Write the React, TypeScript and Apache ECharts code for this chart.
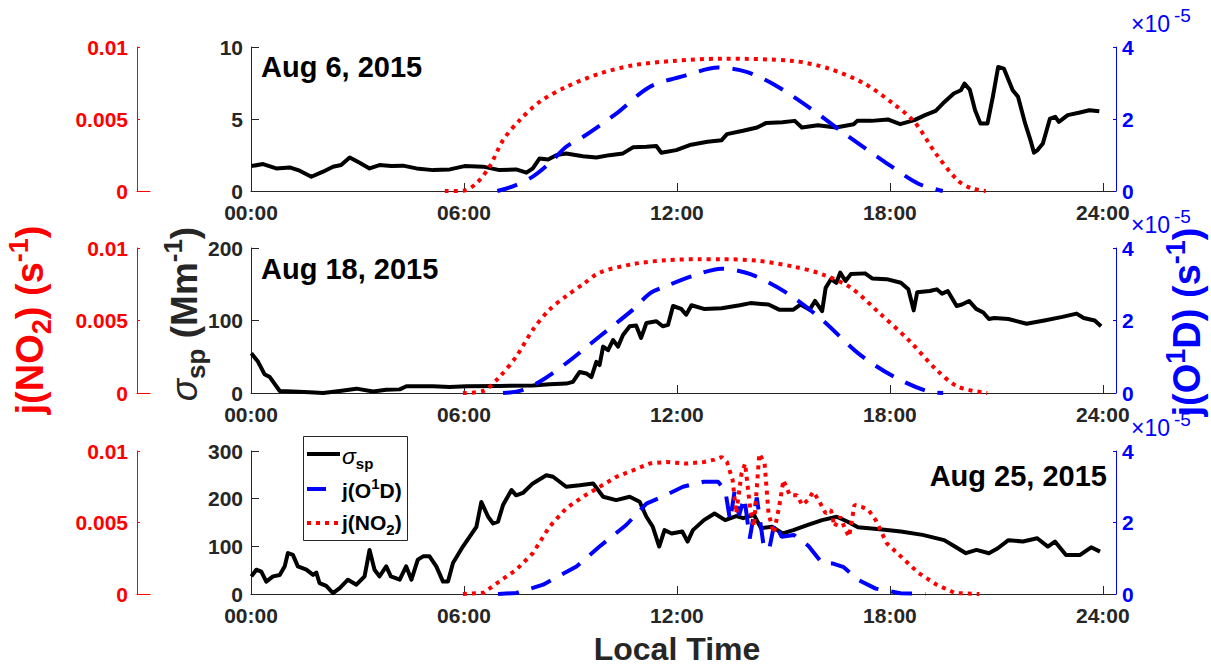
import React, { useEffect, useRef } from "react";
import * as echarts from "echarts";

const FONT = "'Liberation Sans', Arial, Helvetica, sans-serif";
const GRAY = "#262626";
const RED = "#ff0000";
const BLUE = "#0000ff";

// ---- axis / panel descriptors ----
const panelDates = ["Aug 6, 2015", "Aug 18, 2015", "Aug 25, 2015"];
const sigmaMax = [10, 200, 300];
const sigmaStep = [5, 100, 100];
const jO1DMax = 4; // in units of 1e-5 s^-1
const jO1DStep = 2;
const jNO2Max = 0.01;
const jNO2Step = 0.005;
const hourMax = 24.37;
const hourStep = 6;

// ---- data: [local hour, value] ----
// sigma_sp (Mm^-1)
const sigmaAug6 = [
  [0.01, 1.73], [0.34, 1.87], [0.71, 1.57], [1.09, 1.64], [1.37, 1.41], [1.7, 0.99], [2.03, 1.34], [2.31, 1.69],
  [2.54, 1.8], [2.78, 2.33], [3.06, 1.96], [3.34, 1.57], [3.62, 1.8], [3.95, 1.73], [4.28, 1.76], [4.66, 1.57],
  [5.13, 1.45], [5.6, 1.5], [6.02, 1.73], [6.54, 1.69], [7.0, 1.45], [7.47, 1.5], [7.76, 1.27], [7.94, 1.57],
  [8.13, 2.26], [8.37, 2.19], [8.6, 2.49], [8.88, 2.61], [9.35, 2.42], [9.73, 2.33], [10.1, 2.49], [10.48, 2.61],
  [10.76, 3.03], [11.14, 3.07], [11.42, 3.12], [11.56, 2.66], [11.98, 2.84], [12.36, 3.19], [12.86, 3.42],
  [13.26, 3.53], [13.41, 3.95], [13.86, 4.18], [14.26, 4.41], [14.52, 4.73], [14.97, 4.78], [15.32, 4.87],
  [15.52, 4.41], [15.97, 4.57], [16.48, 4.41], [16.98, 4.64], [17.08, 4.87], [17.48, 4.87], [17.94, 4.97],
  [18.29, 4.64], [18.69, 4.92], [18.99, 5.27], [19.29, 5.57], [19.49, 6.07], [19.8, 6.77], [20.0, 7.0],
  [20.1, 7.46], [20.25, 7.04], [20.4, 5.61], [20.55, 4.69], [20.75, 4.69], [20.9, 6.54], [21.05, 8.61],
  [21.21, 8.5], [21.46, 7.0], [21.61, 6.54], [21.81, 4.69], [21.96, 3.53], [22.06, 2.66], [22.16, 2.84],
  [22.31, 3.3], [22.51, 5.03], [22.66, 5.15], [22.76, 4.8], [23.01, 5.27], [23.32, 5.43], [23.62, 5.61], [23.9, 5.54],
];
const sigmaAug18 = [
  [0.01, 54.8], [0.2, 43], [0.38, 26], [0.53, 22], [0.81, 2.8], [1.18, 1.9], [1.65, 1], [2.03, 0], [2.5, 2.8],
  [2.97, 6], [3.44, 2], [3.81, 4.6], [4.19, 5], [4.38, 9.3], [5.13, 9.3], [5.6, 8.4], [6.07, 9.3], [7.0, 9.7],
  [7.94, 10.2], [8.41, 12], [8.88, 13], [9.07, 15.3], [9.26, 29], [9.45, 27], [9.59, 22], [9.73, 43], [9.82, 38.5],
  [9.92, 64], [10.06, 59], [10.2, 73], [10.34, 64], [10.48, 80], [10.67, 92], [10.85, 93], [10.99, 76], [11.14, 96.5],
  [11.42, 99], [11.6, 92], [11.75, 94], [11.89, 120], [12.12, 116], [12.26, 108], [12.41, 121], [12.76, 116],
  [13.26, 117], [13.77, 121], [14.07, 124], [14.58, 122], [14.88, 115], [15.28, 115], [15.48, 122], [15.74, 115],
  [15.89, 127], [16.09, 113], [16.19, 145], [16.34, 157], [16.49, 152], [16.6, 166], [16.75, 154.5], [16.9, 164],
  [17.3, 165], [17.5, 158], [17.91, 157], [18.31, 152], [18.52, 143], [18.67, 114], [18.77, 139], [19.12, 140.6],
  [19.32, 143], [19.47, 137], [19.63, 140.6], [19.88, 120], [20.03, 122], [20.23, 127], [20.43, 116], [20.63, 111],
  [20.79, 102], [20.94, 103.5], [21.34, 102], [21.85, 95.6], [22.35, 100], [22.86, 105], [23.26, 109.5],
  [23.46, 103.5], [23.77, 100], [23.95, 92],
];
const sigmaAug25 = [
  [0.01, 37], [0.15, 51], [0.29, 47], [0.43, 26], [0.62, 37], [0.81, 40], [0.95, 58], [1.04, 86], [1.18, 82],
  [1.32, 58], [1.56, 51], [1.75, 40], [1.84, 45], [1.93, 23], [2.12, 17], [2.31, 2], [2.5, 12.5], [2.73, 30],
  [2.97, 19.5], [3.2, 37], [3.34, 92.5], [3.48, 51], [3.62, 37], [3.81, 58], [3.94, 37], [4.19, 30], [4.37, 58],
  [4.52, 30], [4.7, 72], [4.85, 79], [5.03, 79], [5.22, 58], [5.41, 26], [5.55, 26], [5.69, 65], [5.97, 99.5],
  [6.35, 141], [6.49, 193], [6.68, 162], [6.82, 148], [6.96, 152], [7.1, 186.5], [7.34, 218], [7.47, 207],
  [7.66, 212], [7.94, 232], [8.32, 249], [8.51, 246], [8.88, 225], [9.26, 228], [9.64, 232], [9.92, 204],
  [10.29, 197], [10.67, 204], [10.95, 193.5], [11.14, 162], [11.32, 141], [11.5, 99.5], [11.65, 134], [11.85, 127],
  [12.15, 131], [12.3, 110], [12.45, 134], [12.76, 155], [13.06, 169], [13.36, 155], [13.67, 163.5], [13.87, 159],
  [14.17, 166], [14.37, 138], [14.68, 141], [14.98, 127], [15.28, 134], [15.69, 145], [16.09, 155], [16.5, 162],
  [16.8, 152], [17.1, 140], [17.71, 136], [18.31, 131], [18.92, 124], [19.53, 113], [19.83, 99.5], [20.14, 85.6],
  [20.44, 92.5], [20.79, 85.6], [21.04, 96], [21.34, 113], [21.75, 110], [22.15, 117], [22.45, 99.5], [22.65, 110],
  [22.96, 82], [23.36, 82], [23.67, 98], [23.92, 89],
];

// j(O1D) in units of 1e-5 s^-1
const jO1DAug6 = [
  [6.94, 0], [7.43, 0.15], [7.94, 0.4], [8.41, 0.77], [8.88, 1.23], [9.35, 1.5], [10.29, 2.15], [11.23, 2.89],
  [12.25, 3.21], [13.16, 3.43], [13.96, 3.31], [14.77, 2.94], [15.77, 2.29], [16.78, 1.55], [17.78, 0.86],
  [18.79, 0.21], [19.49, 0],
];
const jO1DAug18 = [
  [7.1, 0], [7.57, 0.06], [8.13, 0.31], [8.88, 0.82], [9.82, 1.56], [10.76, 2.3], [11.24, 2.75], [11.7, 2.95],
  [12.45, 3.23], [13.26, 3.43], [14.07, 3.28], [15.08, 2.77], [16.09, 2.02], [17.1, 1.1], [18.11, 0.45],
  [19.12, 0.03], [19.5, 0],
];
const jO1DAug25 = [
  [6.96, 0], [7.47, 0.03], [8.23, 0.26], [9.17, 0.77], [9.82, 1.33], [10.57, 1.93], [11.14, 2.53], [11.7, 2.77],
  [12.17, 3.0], [12.76, 3.14], [13.16, 3.14], [13.36, 2.9], [13.5, 2.05], [13.62, 2.85], [13.75, 2.2], [13.9, 2.7],
  [14.05, 1.55], [14.25, 2.7], [14.45, 1.3], [14.6, 1.25], [14.75, 2.0], [14.95, 1.6], [15.3, 1.65], [15.7, 1.35],
  [16.1, 0.85], [16.4, 0.85], [16.7, 0.75], [17.1, 0.4], [17.6, 0.15], [18.3, 0.02], [19.0, 0],
];

// j(NO2) in units of 1e-3 s^-1
const jNO2Aug6 = [
  [5.46, 0], [5.97, 0.02], [6.35, 0.53], [6.72, 1.69], [7.1, 3.53], [7.57, 4.92], [8.13, 6.19], [8.88, 7.23],
  [9.82, 8.15], [10.76, 8.73], [11.89, 9.03], [13.26, 9.19], [15.27, 9.03], [16.28, 8.5], [17.28, 7.46],
  [18.09, 6.07], [18.69, 4.8], [19.29, 2.61], [19.9, 0.76], [20.3, 0.18], [20.7, 0],
];
const jNO2Aug18 = [
  [5.97, 0], [6.54, 0.14], [7.0, 1.11], [7.47, 2.5], [7.94, 4.36], [8.41, 5.75], [8.88, 6.68], [9.35, 7.49],
  [9.82, 8.3], [10.76, 8.89], [11.7, 9.16], [12.64, 9.23], [13.26, 9.23], [14.27, 9.12], [15.28, 8.72],
  [16.09, 8.19], [16.9, 7.26], [17.7, 5.52], [18.52, 3.67], [19.32, 1.58], [19.93, 0.42], [20.74, 0],
];
const jNO2Aug25 = [
  [5.97, 0], [6.54, 0.07], [7.0, 0.88], [7.47, 1.69], [7.94, 2.85], [8.41, 4.71], [8.88, 5.99], [9.35, 6.8],
  [9.82, 7.49], [10.29, 8.19], [10.76, 8.65], [11.23, 9.12], [11.7, 9.23], [12.25, 9.12], [12.76, 9.23],
  [13.06, 9.4], [13.26, 9.58], [13.41, 9.23], [13.57, 7.96], [13.67, 5.64], [13.82, 8.42], [13.92, 9.12],
  [14.07, 5.87], [14.17, 4.71], [14.32, 9.81], [14.47, 9.12], [14.58, 5.64], [14.73, 4.25], [14.88, 6.1],
  [15.0, 7.96], [15.18, 6.91], [15.38, 6.91], [15.53, 6.22], [15.69, 6.57], [15.84, 7.15], [15.99, 6.57],
  [16.19, 5.64], [16.34, 5.87], [16.44, 4.71], [16.6, 5.41], [16.75, 4.48], [16.85, 4.01], [17.0, 6.22],
  [17.2, 6.1], [17.4, 5.87], [17.6, 5.17], [17.91, 3.55], [18.31, 2.62], [18.81, 1.46], [19.32, 0.65],
  [19.83, 0.07], [20.52, 0],
];

const sigmaSeries = [sigmaAug6, sigmaAug18, sigmaAug25];
const jO1DSeries = [jO1DAug6, jO1DAug18, jO1DAug25];
const jNO2Series = [jNO2Aug6, jNO2Aug18, jNO2Aug25];

// ---- layout ----
const PLOT_LEFT = 251;
const PLOT_WIDTH = 865;
const RED_LEFT = 137;
const RED_WIDTH = 13;
const gridTops = [47, 248, 451];
const gridHeights = [144, 145, 143];

const fmtHour = (v: number) => {
  const r = Math.round(v);
  if (Math.abs(v - r) > 1e-6 || r % 6 !== 0) return "";
  return (r < 10 ? "0" : "") + r + ":00";
};

const tickFont = { fontFamily: FONT, fontWeight: "bold" as const, fontSize: 21 };

function buildOption() {
  const grid: any[] = [];
  const xAxis: any[] = [];
  const yAxis: any[] = [];
  const series: any[] = [];

  for (let i = 0; i < 3; i++) {
    grid.push({ left: PLOT_LEFT, top: gridTops[i], width: PLOT_WIDTH, height: gridHeights[i] });
    xAxis.push({
      gridIndex: i,
      type: "value",
      min: 0,
      max: hourMax,
      interval: hourStep,
      axisLine: { show: true, onZero: false, lineStyle: { color: GRAY, width: 1 } },
      axisTick: { show: true, inside: true, length: 8, lineStyle: { color: GRAY } },
      axisLabel: { ...tickFont, color: GRAY, margin: 11, formatter: fmtHour, showMaxLabel: false },
      splitLine: { show: false },
    });
    yAxis.push({
      gridIndex: i,
      type: "value",
      position: "left",
      min: 0,
      max: sigmaMax[i],
      interval: sigmaStep[i],
      axisLine: { show: true, lineStyle: { color: GRAY, width: 1 } },
      axisTick: { show: true, inside: true, length: 8, lineStyle: { color: GRAY } },
      axisLabel: { ...tickFont, color: GRAY, margin: 8 },
      splitLine: { show: false },
    });
    yAxis.push({
      gridIndex: i,
      type: "value",
      position: "right",
      min: 0,
      max: jO1DMax,
      interval: jO1DStep,
      axisLine: { show: true, lineStyle: { color: BLUE, width: 1 } },
      axisTick: { show: true, inside: true, length: 3, lineStyle: { color: BLUE } },
      axisLabel: { ...tickFont, color: BLUE, margin: 6 },
      splitLine: { show: false },
    });
    yAxis.push({ gridIndex: i, type: "value", show: false, min: 0, max: jNO2Max });

    series.push({
      type: "line",
      name: "sigma",
      xAxisIndex: i,
      yAxisIndex: 3 * i,
      data: sigmaSeries[i],
      symbol: "none",
      lineStyle: { color: "#000000", width: 4, join: "round" },
      z: 3,
    });
    series.push({
      type: "line",
      name: "jO1D",
      xAxisIndex: i,
      yAxisIndex: 3 * i + 1,
      data: jO1DSeries[i],
      symbol: "none",
      smooth: i === 2 ? 0 : 0.3,
      lineStyle: { color: BLUE, width: 4, type: [21, 13], cap: "butt" },
      z: 4,
    });
    series.push({
      type: "line",
      name: "jNO2",
      xAxisIndex: i,
      yAxisIndex: 3 * i + 2,
      data: jNO2Series[i].map((p) => [p[0], p[1] * 1e-3]),
      symbol: "none",
      smooth: i === 2 ? 0 : 0.3,
      lineStyle: { color: RED, width: 4, type: [4, 5], cap: "butt" },
      z: 5,
    });
  }

  // separate red j(NO2) axes on the far left
  for (let i = 0; i < 3; i++) {
    grid.push({ left: RED_LEFT, top: gridTops[i], width: RED_WIDTH, height: gridHeights[i] });
    xAxis.push({
      gridIndex: 3 + i,
      type: "value",
      min: 0,
      max: 1,
      axisLine: { show: true, onZero: false, lineStyle: { color: RED, width: 1 } },
      axisTick: { show: false },
      axisLabel: { show: false },
      splitLine: { show: false },
    });
    yAxis.push({
      gridIndex: 3 + i,
      type: "value",
      position: "left",
      min: 0,
      max: jNO2Max,
      interval: jNO2Step,
      axisLine: { show: true, lineStyle: { color: RED, width: 1 } },
      axisTick: { show: true, inside: true, length: 3, lineStyle: { color: RED } },
      axisLabel: { ...tickFont, color: RED, margin: 9 },
      splitLine: { show: false },
    });
  }

  const nameRich = (color: string, size: number) => {
    const small = Math.round(size * 0.7);
    return {
      m: { fontSize: size, fontWeight: "bold", fontFamily: FONT, fill: color, lineHeight: size + 12, verticalAlign: "middle" },
      it: { fontSize: size, fontStyle: "italic", fontFamily: FONT, fill: color, lineHeight: size + 12, verticalAlign: "middle" },
      sb: { fontSize: small, fontWeight: "bold", fontFamily: FONT, fill: color, lineHeight: small, verticalAlign: "bottom" },
      sp: { fontSize: small, fontWeight: "bold", fontFamily: FONT, fill: color, lineHeight: small, verticalAlign: "top" },
    };
  };

  const graphic: any[] = [];
  const titleStyle = { fill: "#000", fontSize: 29, fontWeight: "bold", fontFamily: FONT, verticalAlign: "middle" };
  // panel date labels
  graphic.push({ type: "text", x: 261, y: 67, style: { ...titleStyle, text: panelDates[0], align: "left" } });
  graphic.push({ type: "text", x: 261, y: 269, style: { ...titleStyle, text: panelDates[1], align: "left" } });
  graphic.push({ type: "text", x: 1107, y: 476, style: { ...titleStyle, text: panelDates[2], align: "right" } });
  // x axis title
  graphic.push({ type: "text", x: 677, y: 649, style: { text: "Local Time", fill: GRAY, fontSize: 32, fontWeight: "bold", fontFamily: FONT, align: "center", verticalAlign: "middle" } });
  // ×10^-5 exponents
  for (let i = 0; i < 3; i++) {
    graphic.push({
      type: "text",
      x: 1131,
      y: gridTops[i] - 23,
      style: { text: "×10", fill: BLUE, fontSize: 23, lineHeight: 16, fontFamily: FONT, align: "left", verticalAlign: "middle" },
    });
    graphic.push({
      type: "text",
      x: 1174,
      y: gridTops[i] - 32,
      style: { text: "-5", fill: BLUE, fontSize: 19, lineHeight: 14, fontFamily: FONT, align: "left", verticalAlign: "middle" },
    });
  }
  // rotated axis names
  graphic.push({
    type: "text", x: 30, y: 320, rotation: Math.PI / 2,
    style: { text: "{m|j(NO}{sb|2}{m|) (s}{sp|-1}{m|)}", align: "center", verticalAlign: "middle", rich: nameRich(RED, 38) },
  });
  graphic.push({
    type: "text", x: 184, y: 314, rotation: Math.PI / 2,
    style: { text: "{it|σ}{sb|sp}{m| (Mm}{sp|-1}{m|)}", align: "center", verticalAlign: "middle", rich: nameRich(GRAY, 37) },
  });
  graphic.push({
    type: "text", x: 1187, y: 322, rotation: Math.PI / 2,
    style: { text: "{m|j(O}{sp|1}{m|D) (s}{sp|-1}{m|)}", align: "center", verticalAlign: "middle", rich: nameRich(BLUE, 38) },
  });

  // legend in bottom panel
  const lgRich = {
    m: { fontSize: 21, fontWeight: "bold", fontFamily: FONT, fill: "#000", lineHeight: 29, verticalAlign: "middle" },
    it: { fontSize: 23, fontStyle: "italic", fontFamily: FONT, fill: "#000", lineHeight: 29, verticalAlign: "middle" },
    sb: { fontSize: 15, fontWeight: "bold", fontFamily: FONT, fill: "#000", lineHeight: 15, verticalAlign: "bottom" },
    sp: { fontSize: 15, fontWeight: "bold", fontFamily: FONT, fill: "#000", lineHeight: 15, verticalAlign: "top" },
  };
  graphic.push({ type: "rect", z: 100, shape: { x: 303.5, y: 436.5, width: 104, height: 104 }, style: { fill: "#fff", stroke: GRAY, lineWidth: 1 } });
  graphic.push({ type: "line", z: 101, shape: { x1: 307, y1: 454, x2: 340, y2: 454 }, style: { stroke: "#000", lineWidth: 4 } });
  graphic.push({ type: "line", z: 101, shape: { x1: 307, y1: 489, x2: 340, y2: 489 }, style: { stroke: BLUE, lineWidth: 4, lineDash: [19, 30] } });
  graphic.push({ type: "line", z: 101, shape: { x1: 307, y1: 523, x2: 340, y2: 523 }, style: { stroke: RED, lineWidth: 4, lineDash: [4, 5] } });
  graphic.push({ type: "text", z: 101, x: 342, y: 456, style: { text: "{it|σ}{sb|sp}", align: "left", verticalAlign: "middle", rich: lgRich } });
  graphic.push({ type: "text", z: 101, x: 342, y: 490, style: { text: "{m|j(O}{sp|1}{m|D)}", align: "left", verticalAlign: "middle", rich: lgRich } });
  graphic.push({ type: "text", z: 101, x: 342, y: 522, style: { text: "{m|j(NO}{sb|2}{m|)}", align: "left", verticalAlign: "middle", rich: lgRich } });

  return {
    animation: false,
    backgroundColor: "#ffffff",
    grid,
    xAxis,
    yAxis,
    series,
    graphic,
  };
}

export default function App() {
  const ref = useRef<HTMLDivElement>(null);
  useEffect(() => {
    if (!ref.current) return;
    const chart = echarts.init(ref.current, undefined, { renderer: "svg" });
    chart.setOption(buildOption() as any);
    return () => chart.dispose();
  }, []);
  return (
    <div
      ref={ref}
      style={{ position: "fixed", left: 0, top: 0, width: 1211, height: 669, background: "#fff" }}
    />
  );
}
